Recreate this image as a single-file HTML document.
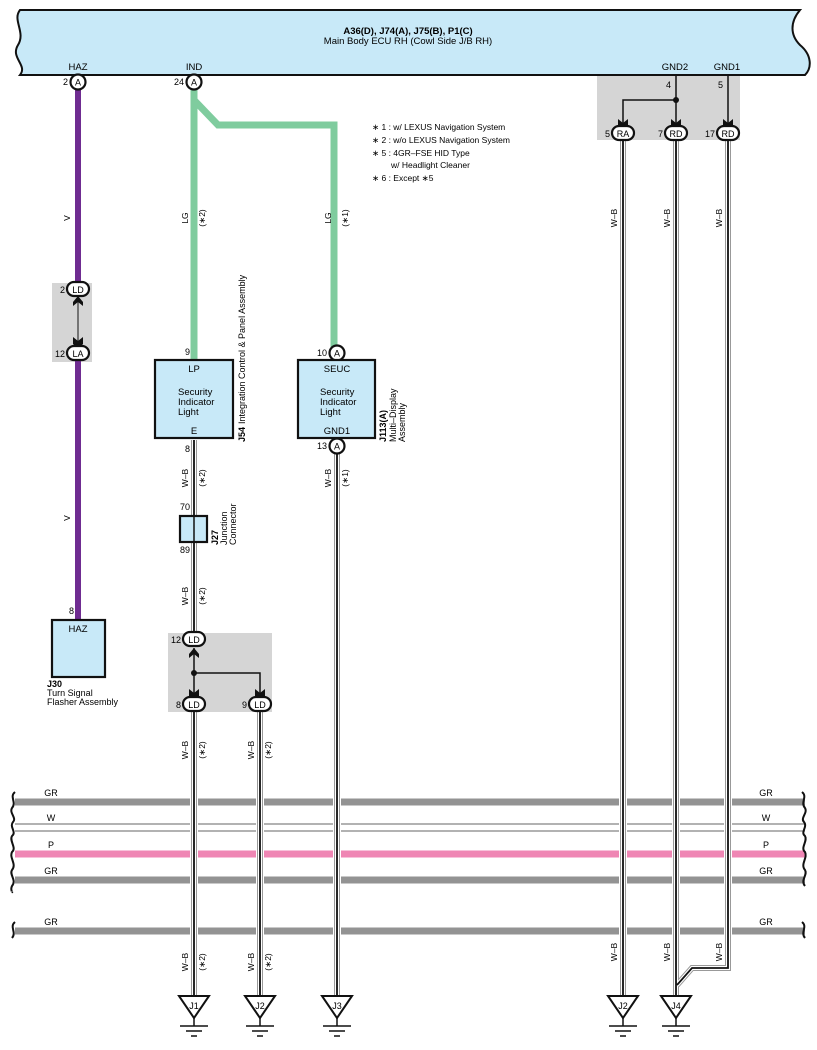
<!DOCTYPE html>
<html><head><meta charset="utf-8"><style>
body{margin:0;background:#fff}
svg{display:block;font-family:"Liberation Sans",sans-serif}
</style></head><body>
<svg width="817" height="1050" viewBox="0 0 817 1050" xmlns="http://www.w3.org/2000/svg">
<defs>
<g id="gnd"><polygon points="-15,0 15,0 0,22" fill="#fff" stroke="#111" stroke-width="2"/><line x1="0" y1="22" x2="0" y2="30" stroke="#111" stroke-width="1.5"/><line x1="-14" y1="30" x2="14" y2="30" stroke="#111" stroke-width="1.5"/><line x1="-8" y1="35" x2="8" y2="35" stroke="#111" stroke-width="1.5"/><line x1="-3" y1="40" x2="3" y2="40" stroke="#111" stroke-width="1.5"/></g>
<path id="arrD" d="M-5,-7 L0,-3 L5,-7 L5,0 L0,5 L-5,0Z" fill="#111"/>
</defs>
<!-- header -->
<path d="M20,10 L800,10 C790,22 790,35 800,45 C812,55 812,68 805,75 L20,75 C28,65 10,58 18,45 C26,32 12,20 20,10Z" fill="#c8e9f8" stroke="#111" stroke-width="2"/>
<text x="408" y="34" font-size="9.5" font-weight="bold" text-anchor="middle">A36(D), J74(A), J75(B), P1(C)</text>
<text x="408" y="44" font-size="9.5" text-anchor="middle">Main Body ECU RH (Cowl Side J/B RH)</text>
<g font-size="9.5" text-anchor="middle"><text x="78" y="70">HAZ</text><text x="194" y="70">IND</text><text x="675" y="70">GND2</text><text x="727" y="70">GND1</text></g>
<!-- gray splice boxes -->
<rect x="597" y="76" width="143" height="64" fill="#d5d5d5"/>
<rect x="52" y="283" width="40" height="79" fill="#d5d5d5"/>
<rect x="168" y="633" width="104" height="79" fill="#d5d5d5"/>
<!-- buses -->
<g stroke-width="7">
<line x1="15" y1="802" x2="805" y2="802" stroke="#939393"/>
<line x1="15" y1="854" x2="805" y2="854" stroke="#ef86b4"/>
<line x1="15" y1="880" x2="805" y2="880" stroke="#939393"/>
<line x1="15" y1="931" x2="805" y2="931" stroke="#939393"/>
</g>
<line x1="15" y1="824" x2="805" y2="824" stroke="#666" stroke-width="1"/>
<line x1="15" y1="831" x2="805" y2="831" stroke="#666" stroke-width="1"/>
<g fill="none" stroke="#111" stroke-width="2">
<path d="M15,792 C9,797 17,802 12,808 C9,813 17,818 13,822 C9,827 17,832 12,836 C9,841 17,848 12,852 C9,858 17,864 12,870 C9,875 17,880 12,886 C10,890 13,893 12,892"/>
<path d="M15,922 C9,927 17,932 12,938"/>
<path d="M802,792 C808,797 800,802 805,808 C808,813 800,818 804,822 C808,827 800,832 805,836 C808,841 800,848 805,852 C808,858 800,864 805,870 C808,875 800,880 805,886"/>
<path d="M802,922 C808,927 800,932 805,938"/>
</g>
<g font-size="9" text-anchor="middle"><text x="51" y="796">GR</text><text x="51" y="821">W</text><text x="51" y="848">P</text><text x="51" y="874">GR</text><text x="51" y="925">GR</text>
<text x="766" y="796">GR</text><text x="766" y="821">W</text><text x="766" y="848">P</text><text x="766" y="874">GR</text><text x="766" y="925">GR</text></g>
<!-- purple -->
<line x1="78" y1="88" x2="78" y2="620" stroke="#6f2c91" stroke-width="6"/>
<line x1="78" y1="296" x2="78" y2="346" stroke="#d5d5d5" stroke-width="8"/>
<line x1="78" y1="298" x2="78" y2="344" stroke="#333" stroke-width="1.2"/>
<path d="M73,302 L78,296 L83,302 L83,306 L78,302 L73,306Z" fill="#111"/>
<use href="#arrD" x="78" y="344"/>
<!-- green -->
<g fill="none" stroke="#7fcc9e" stroke-width="7">
<path d="M194,88 L194,360"/>
<path d="M194,100 L218,125 L334,125 L334,347"/>
</g>
<!-- W-B wires -->
<g fill="none">
<g stroke="#fff" stroke-width="8">
<path d="M194,440 L194,995 M260,710 L260,995 M337,452 L337,995 M623,140 L623,995 M676,140 L676,995 M728,140 L728,968 L692,968 L679,983"/>
</g>
<g stroke="#999" stroke-width="6"><path d="M194,440 L194,995 M260,710 L260,995 M337,452 L337,995 M623,140 L623,995 M676,140 L676,995 M728,140 L728,968 L692,968 L677,985"/></g>
<g stroke="#fff" stroke-width="4"><path d="M194,440 L194,995 M260,710 L260,995 M337,452 L337,995 M623,140 L623,995 M676,140 L676,995 M728,140 L728,968 L692,968 L677,985"/></g>
<g stroke="#111" stroke-width="1.8"><path d="M194,440 L194,995 M260,710 L260,995 M337,452 L337,995 M623,140 L623,995 M676,140 L676,995 M728,140 L728,968 L692,968 L677,985"/></g>
</g>
<rect x="172" y="636" width="96" height="72" fill="#d5d5d5"/>
<rect x="600" y="78" width="137" height="62" fill="#d5d5d5"/>
<!-- splice lines -->
<g stroke="#111" stroke-width="1.5" fill="none">
<path d="M194,648 L194,697 M194,673 L260,673 L260,697"/>
<path d="M676,76 L676,126 M676,100 L623,100 L623,126 M728,76 L728,126"/>
</g>
<circle cx="194" cy="673" r="3" fill="#111"/><circle cx="676" cy="100" r="3" fill="#111"/>
<path d="M189,654 L194,648 L199,654 L199,658 L194,654 L189,658Z" fill="#111"/>
<use href="#arrD" x="194" y="696"/><use href="#arrD" x="260" y="696"/>
<use href="#arrD" x="623" y="126"/><use href="#arrD" x="676" y="126"/><use href="#arrD" x="728" y="126"/>
<!-- connectors -->
<g fill="#fff" stroke="#111" stroke-width="2.2">
<circle cx="78" cy="82" r="7.5"/><circle cx="194" cy="82" r="7.5"/><circle cx="337" cy="353" r="7.5"/><circle cx="337" cy="446" r="7.5"/>
<rect x="67" y="282" width="22" height="14" rx="7"/><rect x="67" y="346" width="22" height="14" rx="7"/>
<rect x="183" y="632" width="22" height="14" rx="7"/><rect x="183" y="697" width="22" height="14" rx="7"/><rect x="249" y="697" width="22" height="14" rx="7"/>
<rect x="612" y="126" width="22" height="14" rx="7"/><rect x="665" y="126" width="22" height="14" rx="7"/><rect x="717" y="126" width="22" height="14" rx="7"/>
</g>
<g font-size="9" text-anchor="middle">
<text x="78" y="85.5">A</text><text x="194" y="85.5">A</text><text x="337" y="356.5">A</text><text x="337" y="449.5">A</text>
<text x="78" y="293">LD</text><text x="78" y="357">LA</text><text x="194" y="643">LD</text><text x="194" y="708">LD</text><text x="260" y="708">LD</text>
<text x="623" y="137">RA</text><text x="676" y="137">RD</text><text x="728" y="137">RD</text>
</g>
<g font-size="9" text-anchor="end">
<text x="68" y="85">2</text><text x="184" y="85">24</text><text x="65" y="293">2</text><text x="65" y="357">12</text>
<text x="181" y="643">12</text><text x="181" y="708">8</text><text x="247" y="708">9</text>
<text x="610" y="137">5</text><text x="663" y="137">7</text><text x="715" y="137">17</text>
<text x="671" y="88">4</text><text x="723" y="88">5</text>
<text x="190" y="355">9</text><text x="327" y="356">10</text><text x="327" y="449">13</text><text x="190" y="452">8</text>
<text x="190" y="510">70</text><text x="190" y="553">89</text><text x="74" y="614">8</text>
</g>
<!-- boxes -->
<g fill="#c8e9f8" stroke="#111" stroke-width="2.2">
<rect x="155" y="360" width="78" height="78"/><rect x="298" y="360" width="77" height="78"/>
<rect x="180" y="516" width="27" height="26"/><rect x="52" y="620" width="53" height="57"/>
</g>
<line x1="194" y1="516" x2="194" y2="542" stroke="#111" stroke-width="1.5"/>
<g font-size="9.5">
<text x="194" y="372" text-anchor="middle">LP</text><text x="178" y="395">Security</text><text x="178" y="405">Indicator</text><text x="178" y="415">Light</text><text x="194" y="434" text-anchor="middle">E</text>
<text x="337" y="372" text-anchor="middle">SEUC</text><text x="320" y="395">Security</text><text x="320" y="405">Indicator</text><text x="320" y="415">Light</text><text x="337" y="434" text-anchor="middle">GND1</text>
<text x="78" y="632" text-anchor="middle">HAZ</text>
</g>
<g font-size="9"><text x="47" y="687" font-weight="bold">J30</text><text x="47" y="696">Turn Signal</text><text x="47" y="705">Flasher Assembly</text></g>
<g font-size="9" transform="rotate(-90)">
<text x="-442" y="245" font-weight="bold">J54</text><text x="-424" y="245">Integration Control &amp; Panel Assembly</text>
<text x="-442" y="386" font-weight="bold">J113(A)</text><text x="-442" y="396">Multi–Display</text><text x="-442" y="405">Assembly</text>
<text x="-545" y="218" font-weight="bold">J27</text><text x="-545" y="227">Junction</text><text x="-545" y="236">Connector</text>
</g>
<!-- wire labels -->
<g font-size="8.5" text-anchor="middle">
<g transform="translate(70,218) rotate(-90)"><text>V</text></g>
<g transform="translate(70,518) rotate(-90)"><text>V</text></g>
<g transform="translate(188,218) rotate(-90)"><text>LG</text></g><g transform="translate(205,218) rotate(-90)"><text>(∗2)</text></g>
<g transform="translate(331,218) rotate(-90)"><text>LG</text></g><g transform="translate(348,218) rotate(-90)"><text>(∗1)</text></g>
<g transform="translate(188,478) rotate(-90)"><text>W–B</text></g><g transform="translate(205,478) rotate(-90)"><text>(∗2)</text></g>
<g transform="translate(188,596) rotate(-90)"><text>W–B</text></g><g transform="translate(205,596) rotate(-90)"><text>(∗2)</text></g>
<g transform="translate(331,478) rotate(-90)"><text>W–B</text></g><g transform="translate(348,478) rotate(-90)"><text>(∗1)</text></g>
<g transform="translate(188,750) rotate(-90)"><text>W–B</text></g><g transform="translate(205,750) rotate(-90)"><text>(∗2)</text></g>
<g transform="translate(254,750) rotate(-90)"><text>W–B</text></g><g transform="translate(271,750) rotate(-90)"><text>(∗2)</text></g>
<g transform="translate(188,962) rotate(-90)"><text>W–B</text></g><g transform="translate(205,962) rotate(-90)"><text>(∗2)</text></g>
<g transform="translate(254,962) rotate(-90)"><text>W–B</text></g><g transform="translate(271,962) rotate(-90)"><text>(∗2)</text></g>
<g transform="translate(617,218) rotate(-90)"><text>W–B</text></g><g transform="translate(670,218) rotate(-90)"><text>W–B</text></g><g transform="translate(722,218) rotate(-90)"><text>W–B</text></g>
<g transform="translate(617,952) rotate(-90)"><text>W–B</text></g><g transform="translate(670,952) rotate(-90)"><text>W–B</text></g><g transform="translate(722,952) rotate(-90)"><text>W–B</text></g>
</g>
<!-- notes -->
<g font-size="8.5"><text x="372" y="130">∗ 1 : w/ LEXUS Navigation System</text><text x="372" y="143">∗ 2 : w/o LEXUS Navigation System</text><text x="372" y="156">∗ 5 : 4GR–FSE HID Type</text><text x="391" y="168">w/ Headlight Cleaner</text><text x="372" y="181">∗ 6 : Except ∗5</text></g>
<!-- grounds -->
<use href="#gnd" x="194" y="996"/><use href="#gnd" x="260" y="996"/><use href="#gnd" x="337" y="996"/><use href="#gnd" x="623" y="996"/><use href="#gnd" x="676" y="996"/>
<g font-size="9" text-anchor="middle"><text x="194" y="1009">J1</text><text x="260" y="1009">J2</text><text x="337" y="1009">J3</text><text x="623" y="1009">J2</text><text x="676" y="1009">J4</text></g>
</svg>
</body></html>
